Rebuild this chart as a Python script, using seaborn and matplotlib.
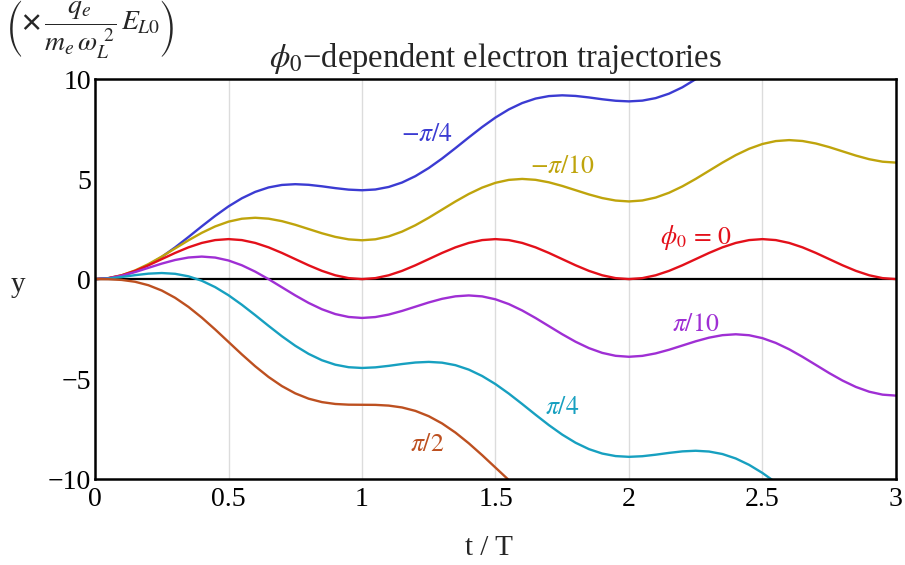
import numpy as np
import pandas as pd
import matplotlib
matplotlib.use("Agg")
import matplotlib.pyplot as plt
import seaborn as sns

# Sampling step of the trajectories, in units of the laser period T
T_STEP = 0.05

# Transverse displacement y (in units of q_e E_L0 / (m_e w_L^2)) for each initial phase
y_minus_pi_4 = [
    0.000, 0.038, 0.164, 0.386, 0.705, 1.111, 1.586, 2.106, 2.641, 3.160,
    3.636, 4.042, 4.361, 4.583, 4.708, 4.746, 4.715, 4.640, 4.549, 4.474,
    4.443, 4.481, 4.607, 4.829, 5.148, 5.554, 6.029, 6.549, 7.084, 7.603,
    8.079, 8.485, 8.803, 9.026, 9.151, 9.189, 9.158, 9.083, 8.992, 8.917,
    8.886, 8.924, 9.049, 9.272, 9.590, 9.997, 10.472, 10.991,
]
y_minus_pi_10 = [
    0.000, 0.048, 0.194, 0.433, 0.752, 1.127, 1.534, 1.940, 2.315, 2.634,
    2.873, 3.019, 3.067, 3.022, 2.898, 2.716, 2.504, 2.292, 2.111, 1.987,
    1.942, 1.990, 2.136, 2.375, 2.693, 3.069, 3.475, 3.881, 4.257, 4.575,
    4.815, 4.961, 5.009, 4.964, 4.840, 4.658, 4.446, 4.234, 4.052, 3.928,
    3.883, 3.931, 4.077, 4.317, 4.635, 5.011, 5.417, 5.823, 6.199, 6.517,
    6.756, 6.902, 6.950, 6.905, 6.781, 6.600, 6.388, 6.176, 5.994, 5.870,
    5.825,
]
y_zero = [
    0.000, 0.049, 0.191, 0.412, 0.691, 1.000, 1.309, 1.588, 1.809, 1.951,
    2.000, 1.951, 1.809, 1.588, 1.309, 1.000, 0.691, 0.412, 0.191, 0.049,
    0.000, 0.049, 0.191, 0.412, 0.691, 1.000, 1.309, 1.588, 1.809, 1.951,
    2.000, 1.951, 1.809, 1.588, 1.309, 1.000, 0.691, 0.412, 0.191, 0.049,
    0.000, 0.049, 0.191, 0.412, 0.691, 1.000, 1.309, 1.588, 1.809, 1.951,
    2.000, 1.951, 1.809, 1.588, 1.309, 1.000, 0.691, 0.412, 0.191, 0.049,
    0.000,
]
y_pi_10 = [
    0.000, 0.045, 0.169, 0.351, 0.563, 0.775, 0.956, 1.080, 1.126, 1.077,
    0.931, 0.692, 0.374, -0.002, -0.408, -0.814, -1.190, -1.508, -1.748, -1.893,
    -1.942, -1.897, -1.773, -1.591, -1.379, -1.167, -0.985, -0.861, -0.816, -0.864,
    -1.010, -1.249, -1.568, -1.944, -2.350, -2.756, -3.132, -3.450, -3.689, -3.835,
    -3.883, -3.838, -3.714, -3.532, -3.321, -3.109, -2.927, -2.803, -2.758, -2.806,
    -2.952, -3.191, -3.509, -3.885, -4.291, -4.698, -5.073, -5.392, -5.631, -5.777,
    -5.825,
]
y_pi_4 = [
    0.000, 0.031, 0.106, 0.197, 0.273, 0.304, 0.265, 0.140, -0.082, -0.401,
    -0.807, -1.283, -1.802, -2.337, -2.857, -3.332, -3.738, -4.057, -4.279, -4.405,
    -4.443, -4.412, -4.337, -4.246, -4.170, -4.139, -4.178, -4.303, -4.525, -4.844,
    -5.250, -5.725, -6.245, -6.780, -7.300, -7.775, -8.181, -8.500, -8.722, -8.848,
    -8.886, -8.855, -8.779, -8.689, -8.613, -8.582, -8.621, -8.746, -8.968, -9.287,
    -9.693, -10.168, -10.688,
]
y_pi_2 = [
    0.000, -0.005, -0.041, -0.133, -0.306, -0.571, -0.934, -1.390, -1.926, -2.518,
    -3.142, -3.765, -4.358, -4.893, -5.349, -5.712, -5.978, -6.150, -6.243, -6.278,
    -6.283, -6.288, -6.324, -6.417, -6.589, -6.854, -7.217, -7.673, -8.209, -8.802,
    -9.425, -10.048, -10.641,
]

phase_names = [r"$-\pi/4$", r"$-\pi/10$", r"$\phi_0\,=\,0$", r"$\pi/10$", r"$\pi/4$", r"$\pi/2$"]
phase_series = [y_minus_pi_4, y_minus_pi_10, y_zero, y_pi_10, y_pi_4, y_pi_2]

x_ticks = [0, 0.5, 1, 1.5, 2, 2.5, 3]
x_tick_labels = ["0", "0.5", "1", "1.5", "2", "2.5", "3"]
y_ticks = [-10, -5, 0, 5, 10]
y_tick_labels = ["\u221210", "\u22125", "0", "5", "10"]

# Styling
colors = ["#3b3bd2", "#bfa40c", "#e3101a", "#9f2fd4", "#17a0c0", "#bd5020"]
label_pos = [(1.245, 7.2), (1.75, 5.6), (2.25, 2.1), (2.25, -2.3), (1.75, -6.45), (1.245, -8.3)]

frames = []
for name, vals in zip(phase_names, phase_series):
    frames.append(pd.DataFrame({
        "t": np.arange(len(vals)) * T_STEP,
        "y": vals,
        "phase": name,
    }))
df = pd.concat(frames, ignore_index=True)

sns.set_theme(style="white")
plt.rcParams["font.family"] = ["Liberation Serif", "DejaVu Serif"]
plt.rcParams["mathtext.fontset"] = "stix"

fig = plt.figure(figsize=(9.05, 5.65), dpi=100)
ax = fig.add_axes([0.105, 0.152, 0.885, 0.708])

for xv in x_ticks[1:-1]:
    ax.axvline(xv, color="#dcdcdc", lw=1.0, zorder=0)
ax.axhline(0, color="black", lw=1.6, zorder=1)

palette = dict(zip(phase_names, colors))
sns.lineplot(data=df, x="t", y="y", hue="phase", hue_order=phase_names,
             palette=palette, estimator=None, sort=False, legend=False,
             lw=1.7, ax=ax, zorder=2)

for name, c, (lx, ly) in zip(phase_names, colors, label_pos):
    ax.text(lx, ly, name, color=c, fontsize=18.5, ha="center", va="center")

ax.set_xlim(0, 3)
ax.set_ylim(-10, 10)
ax.set_xticks(x_ticks)
ax.set_xticklabels(x_tick_labels)
ax.set_yticks(y_ticks)
ax.set_yticklabels(y_tick_labels)
ax.tick_params(axis="both", direction="in", length=5, width=1.2, labelsize=20,
               colors="black")
ax.tick_params(axis="x", pad=6)
ax.tick_params(axis="y", pad=3)
for sp in ax.spines.values():
    sp.set_visible(True)
    sp.set_color("black")
    sp.set_linewidth(1.8)
ax.set_xlabel("")
ax.set_ylabel("")

ax.set_title(r"$\phi_0$" + "\u2212dependent electron trajectories", fontsize=23.5, pad=9)
fig.text(0.540, 0.030, "t / T", fontsize=21, ha="center", va="center")
fig.text(0.020, 0.495, "y", fontsize=21, ha="center", va="center")
fig.text(0.006, 0.948,
         r"$\left(\mathbf{\times}\,\dfrac{q_e}{m_e\,\omega_L^{\ 2}}\,E_{L0}\right)$",
         fontsize=20, ha="left", va="center")

fig.savefig("out.png", dpi=100, facecolor="white")
